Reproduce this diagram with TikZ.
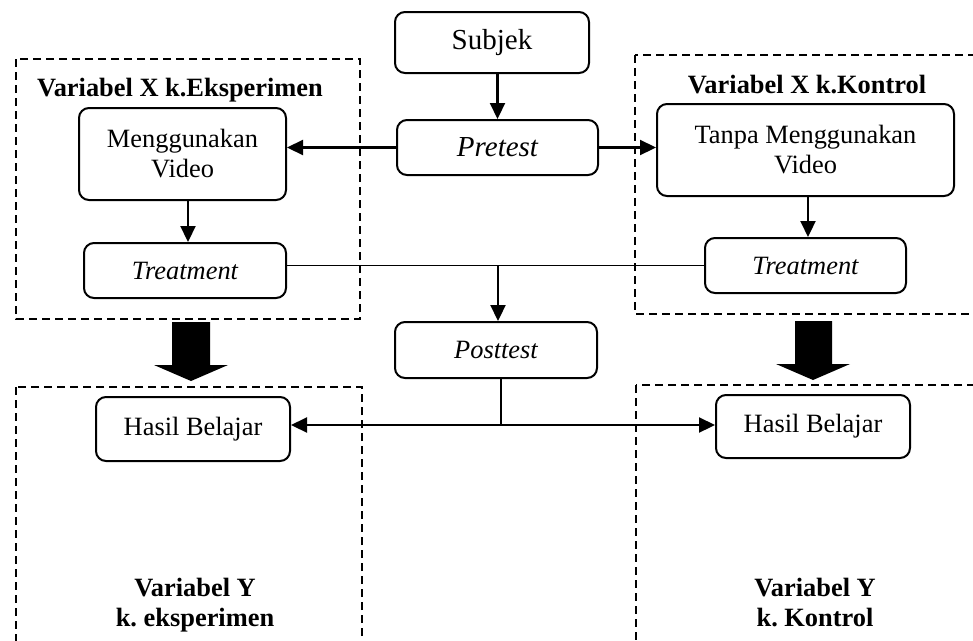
\documentclass[tikz,border=0pt]{standalone}
\usepackage{fontspec}
\setmainfont{Liberation Serif}
\usetikzlibrary{arrows.meta}
\frenchspacing
\tikzset{
  box/.style={draw, line width=2pt, rounded corners=10pt, inner sep=0pt, align=center,
    font=\fontsize{26.4}{30}\selectfont},
  bigtext/.style={font=\fontsize{29}{32}\selectfont},
  lbl/.style={inner sep=0pt, align=center, font=\fontsize{26.4}{30}\selectfont\bfseries},
  conn/.style={line width=2.2pt, -{Triangle[length=16pt,width=15pt]}},
  plain/.style={line width=1.8pt},
  group/.style={line width=2.2pt, dash pattern=on 8pt off 5pt},
  block/.style={fill=black, draw=none}
}
\begin{document}
\begin{tikzpicture}[x=1pt,y=-1pt]
\clip (0,0) rectangle (973,640);
\fill[white] (0,0) rectangle (973,640);
% dashed groups
\draw[group] (16,59) rectangle (360,319);
\draw[group] (635,55) rectangle (995,314);
\draw[group] (16,387) rectangle (362,670);
\draw[group] (636,385) rectangle (995,670);
% nodes
\node[box, bigtext, minimum width=194pt, minimum height=61pt] (subjek) at (492,42.5) {Subjek};
\node[box, bigtext, minimum width=201pt, minimum height=55pt] (pretest) at (497.5,147.5) {\itshape Pretest};
\node[box, minimum width=207pt, minimum height=92pt] (mv) at (182.5,154) {Menggunakan\\Video};
\node[box, minimum width=297pt, minimum height=92pt] (tmv) at (805.5,150) {Tanpa Menggunakan\\Video};
\node[box, minimum width=202pt, minimum height=55pt] (trL) at (185,270.5) {\itshape Treatment};
\node[box, minimum width=201pt, minimum height=55pt] (trR) at (805.5,265.5) {\itshape Treatment};
\node[box, minimum width=202pt, minimum height=56pt] (post) at (496,350) {\itshape Posttest};
\node[box, minimum width=194pt, minimum height=64pt] (hbL) at (193,429) {Hasil Belajar};
\node[box, minimum width=194pt, minimum height=63pt] (hbR) at (813,426.5) {Hasil Belajar};
% labels
\node[lbl] (tL) at (180,90) {Variabel X k.Eksperimen};
\node[lbl] (tR) at (807,85) {Variabel X k.Kontrol};
\node[lbl] (yL) at (195,605) {Variabel Y\\k. eksperimen};
\node[lbl] (yR) at (815,603) {Variabel Y\\k. Kontrol};
% connectors
\draw[conn] (subjek.south -| pretest.north) -- (pretest.north);
\draw[conn] (pretest.west) -- (pretest.west -| mv.east);
\draw[conn] (pretest.east) -- (pretest.east -| tmv.west);
\draw[conn] ([xshift=5.5pt]mv.south) -- ([xshift=5.5pt]mv.south |- trL.north);
\draw[conn] ([xshift=2.5pt]tmv.south) -- ([xshift=2.5pt]tmv.south |- trR.north);
\draw[line width=1.5pt] (trL.east |- trR.west) -- (trR.west);
\coordinate (j) at (498,265.5);
\draw[conn] (j) -- (j |- post.north);
\coordinate (k) at (501,425);
\draw[plain] (k |- post.south) -- (k);
\draw[conn] (k) -- (k -| hbL.east);
\draw[conn] (k) -- (k -| hbR.west);
% block arrows
\fill[block] (172,322) -- (210,322) -- (210,365) -- (228,365) -- (191,381) -- (154,365) -- (172,365) -- cycle;
\fill[block] (795,321) -- (832,321) -- (832,364) -- (850,364) -- (813,380) -- (776,364) -- (795,364) -- cycle;
\end{tikzpicture}
\end{document}
